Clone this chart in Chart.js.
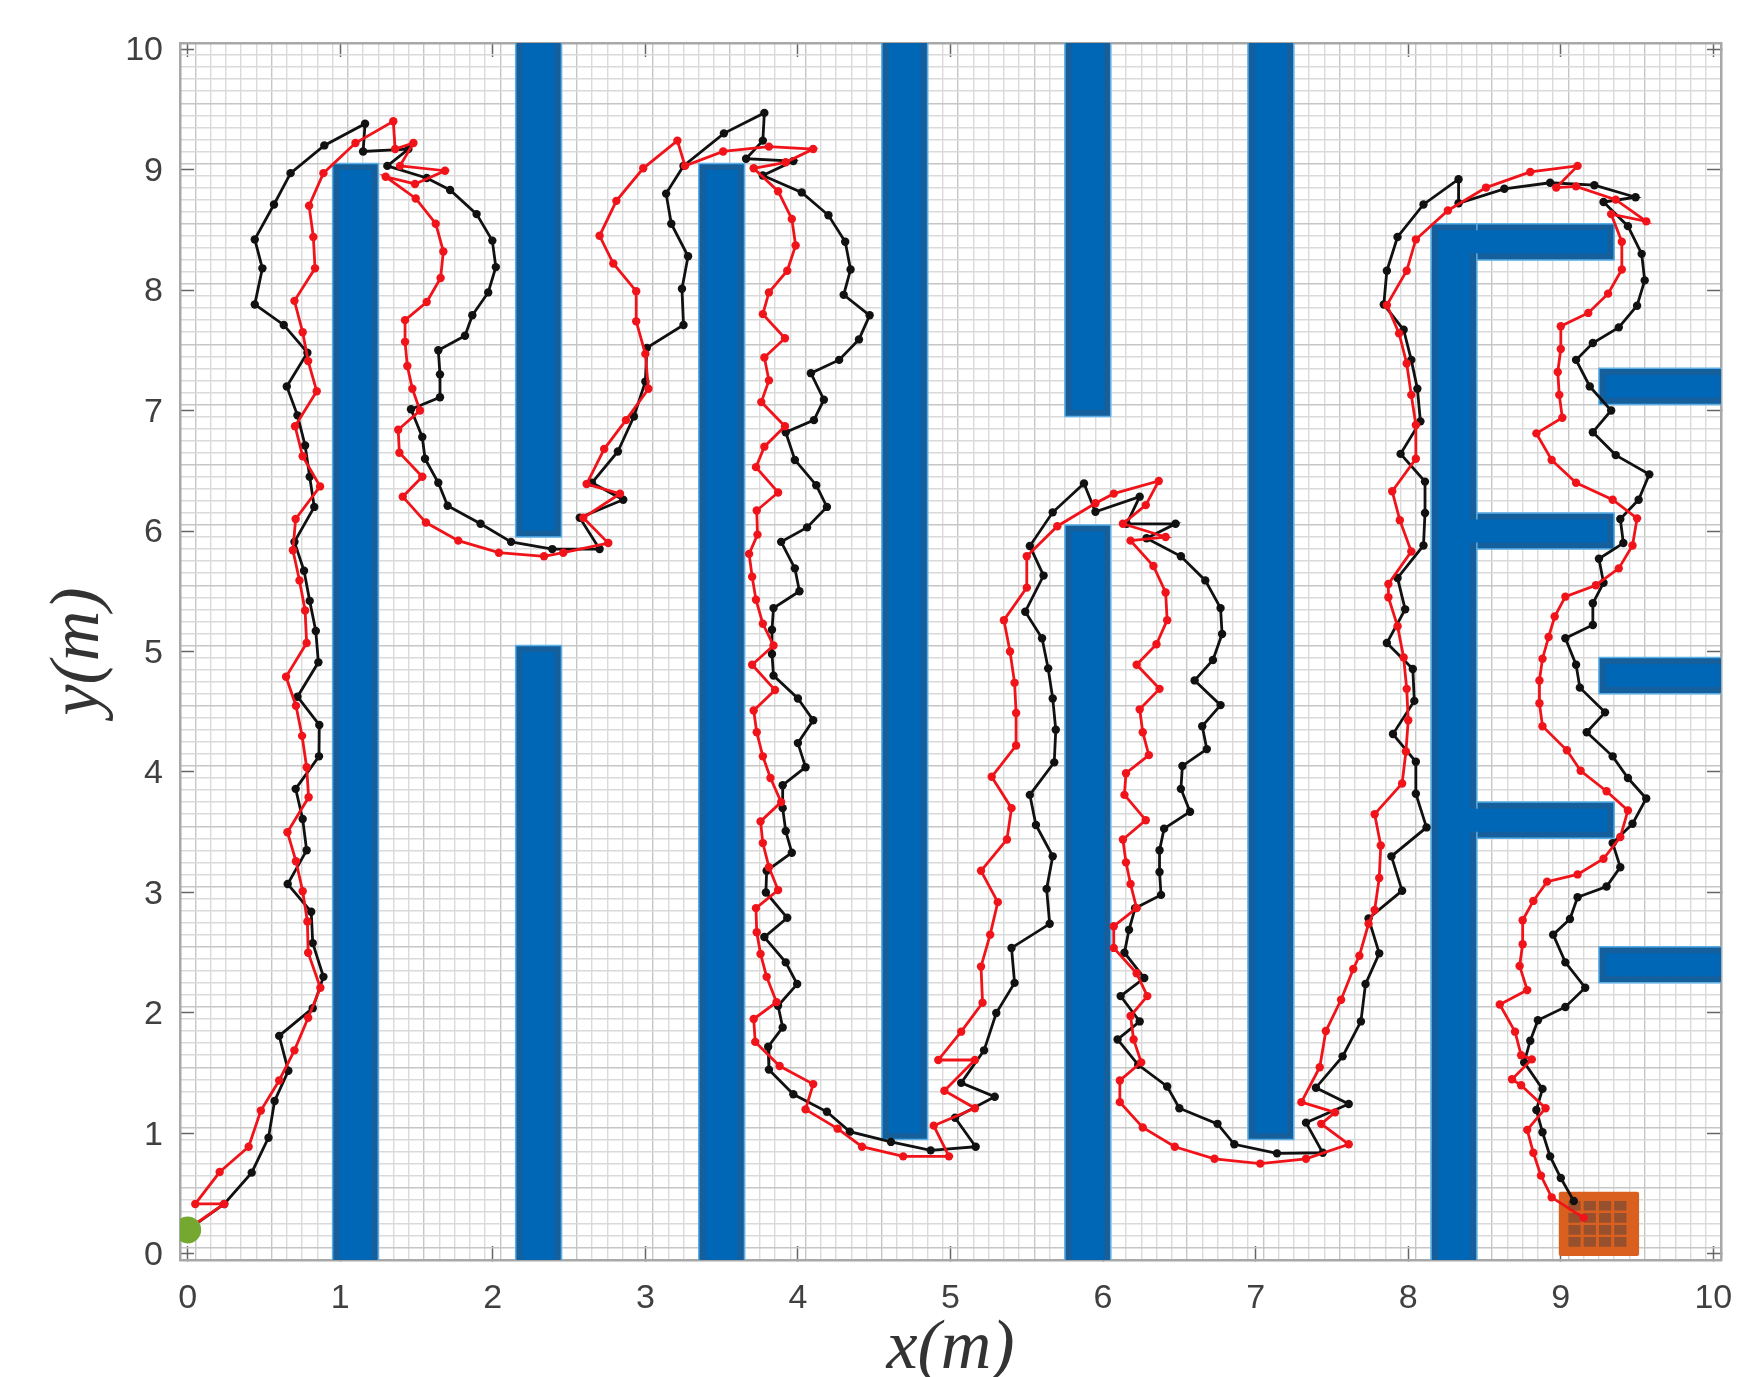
<!DOCTYPE html>
<html>
<head>
<meta charset="utf-8">
<title>Robot path</title>
<script src="https://cdn.jsdelivr.net/npm/chart.js@4/dist/chart.umd.min.js"></script>
<style>
  html, body { margin: 0; padding: 0; background: #fff; }
  #chart { display: block; filter: blur(0.6px); }
</style>
</head>
<body>
<canvas id="chart" width="1741" height="1377"></canvas>
<script>
const tickValues = [0, 1, 2, 3, 4, 5, 6, 7, 8, 9, 10];
const axisMin = -0.05;
const axisMax = 10.05;

// walls: left, right, bottom, top in metres
const wallLeft   = [0.95, 2.15, 2.15, 3.35, 4.55, 5.75, 5.75, 6.95, 8.15, 8.30, 8.30, 8.30, 9.25, 9.25, 9.25];
const wallRight  = [1.25, 2.45, 2.45, 3.65, 4.85, 6.05, 6.05, 7.25, 8.45, 9.35, 9.35, 9.35, 10.1, 10.1, 10.1];
const wallBottom = [-0.1, 5.95, -0.1, -0.1, 0.95, 6.95, -0.1, 0.95, -0.1, 8.25, 5.85, 3.45, 7.05, 4.65, 2.25];
const wallTop    = [9.05, 10.1, 5.05, 9.05, 10.1, 10.1, 6.05, 10.1, 8.55, 8.55, 6.15, 3.75, 7.35, 4.95, 2.55];

const startPoint = [[0, 0.2]];
const targetBox = [9.0, 9.5, 0.0, 0.5];
const targetCellX = [9.05, 9.15, 9.25, 9.35];
const targetCellY = [0.06, 0.16, 0.26, 0.36];

const blackPath = [
  [0, 0.2], [0.24, 0.415], [0.42, 0.675], [0.53, 0.965], [0.57, 1.27], [0.66, 1.52], [0.60, 1.81], [0.82, 2.04],
  [0.89, 2.30], [0.82, 2.58], [0.81, 2.84], [0.656, 3.07], [0.78, 3.35], [0.754, 3.61], [0.708, 3.86], [0.861, 4.13],
  [0.863, 4.39], [0.72, 4.625], [0.857, 4.91], [0.84, 5.17], [0.80, 5.42], [0.763, 5.67], [0.70, 5.91], [0.83, 6.20],
  [0.80, 6.45], [0.77, 6.71], [0.72, 6.96], [0.65, 7.20], [0.785, 7.48], [0.63, 7.71], [0.44, 7.88], [0.49, 8.18],
  [0.44, 8.42], [0.566, 8.71], [0.675, 8.97], [0.896, 9.20], [1.163, 9.38], [1.15, 9.15], [1.447, 9.17], [1.309, 9.03],
  [1.567, 8.93], [1.72, 8.83], [1.894, 8.63], [1.997, 8.41], [2.02, 8.19], [1.97, 7.98], [1.866, 7.79], [1.818, 7.62],
  [1.643, 7.50], [1.654, 7.30], [1.654, 7.11], [1.464, 7.01], [1.538, 6.78], [1.556, 6.60], [1.643, 6.40], [1.704, 6.21],
  [1.92, 6.06], [2.12, 5.91], [2.39, 5.85], [2.70, 5.85], [2.57, 6.11], [2.855, 6.26], [2.65, 6.40], [2.82, 6.66],
  [2.925, 6.95], [3.0, 7.24], [3.01, 7.52], [3.25, 7.71], [3.24, 8.01], [3.28, 8.28], [3.17, 8.55], [3.136, 8.80],
  [3.25, 9.03], [3.515, 9.30], [3.78, 9.47], [3.77, 9.24], [3.66, 9.09], [3.97, 9.07], [3.77, 8.95], [4.025, 8.81],
  [4.20, 8.62], [4.31, 8.40], [4.345, 8.17], [4.30, 7.96], [4.47, 7.79], [4.40, 7.59], [4.27, 7.42], [4.085, 7.31],
  [4.17, 7.09], [4.105, 6.92], [3.92, 6.82], [3.98, 6.59], [4.12, 6.38], [4.19, 6.20], [4.06, 6.03], [3.89, 5.91],
  [3.98, 5.69], [4.01, 5.50], [3.84, 5.36], [3.83, 5.18], [3.83, 4.98], [3.84, 4.80], [4.00, 4.61], [4.10, 4.43],
  [4.0, 4.24], [4.05, 4.04], [3.90, 3.89], [3.90, 3.70], [3.92, 3.51], [3.96, 3.33], [3.795, 3.18], [3.79, 3.00],
  [3.93, 2.79], [3.78, 2.63], [3.92, 2.42], [3.995, 2.24], [3.87, 2.06], [3.90, 1.88], [3.805, 1.72], [3.81, 1.53],
  [3.97, 1.325], [4.19, 1.18], [4.34, 1.015], [4.61, 0.93], [4.87, 0.86], [5.165, 0.89], [5.03, 1.13], [5.29, 1.305],
  [5.07, 1.42], [5.22, 1.69], [5.30, 2.00], [5.42, 2.25], [5.40, 2.54], [5.65, 2.74], [5.63, 3.03], [5.67, 3.30],
  [5.56, 3.56], [5.52, 3.81], [5.68, 4.08], [5.69, 4.35], [5.67, 4.61], [5.64, 4.86], [5.60, 5.11], [5.49, 5.33],
  [5.61, 5.63], [5.52, 5.875], [5.67, 6.155], [5.875, 6.395], [5.95, 6.16], [6.24, 6.285], [6.155, 6.06], [6.475, 6.06],
  [6.285, 5.94], [6.51, 5.79], [6.67, 5.59], [6.77, 5.36], [6.78, 5.145], [6.72, 4.93], [6.60, 4.76], [6.77, 4.555],
  [6.65, 4.38], [6.68, 4.19], [6.52, 4.05], [6.51, 3.86], [6.57, 3.67], [6.40, 3.53], [6.37, 3.35], [6.37, 3.17],
  [6.38, 2.98], [6.21, 2.87], [6.17, 2.69], [6.14, 2.50], [6.27, 2.29], [6.115, 2.14], [6.24, 1.93], [6.095, 1.78],
  [6.23, 1.57], [6.42, 1.39], [6.50, 1.21], [6.75, 1.08], [6.86, 0.91], [7.14, 0.835], [7.44, 0.84], [7.33, 1.09],
  [7.61, 1.245], [7.395, 1.38], [7.57, 1.64], [7.69, 1.93], [7.72, 2.24], [7.81, 2.495], [7.74, 2.785], [7.96, 3.015],
  [7.89, 3.30], [8.12, 3.54], [8.05, 3.82], [8.05, 4.085], [7.90, 4.315], [8.04, 4.59], [8.03, 4.855], [7.86, 5.07],
  [7.98, 5.35], [7.93, 5.61], [8.10, 5.88], [8.11, 6.15], [8.11, 6.41], [7.95, 6.64], [8.08, 6.91], [8.06, 7.18],
  [8.02, 7.42], [7.97, 7.67], [7.84, 7.88], [7.86, 8.16], [7.93, 8.44], [8.10, 8.71], [8.33, 8.92], [8.33, 8.72],
  [8.63, 8.84], [8.93, 8.89], [9.22, 8.87], [9.49, 8.77], [9.28, 8.73], [9.44, 8.53], [9.53, 8.30], [9.55, 8.08],
  [9.50, 7.87], [9.38, 7.69], [9.21, 7.56], [9.10, 7.42], [9.19, 7.20], [9.33, 7.00], [9.21, 6.82], [9.36, 6.63],
  [9.58, 6.47], [9.51, 6.26], [9.39, 6.10], [9.41, 5.90], [9.25, 5.77], [9.28, 5.57], [9.21, 5.40], [9.21, 5.22],
  [9.03, 5.11], [9.10, 4.89], [9.125, 4.70], [9.29, 4.495], [9.17, 4.33], [9.34, 4.13], [9.44, 3.95], [9.56, 3.78],
  [9.47, 3.57], [9.34, 3.41], [9.39, 3.21], [9.30, 3.05], [9.11, 2.96], [9.06, 2.78], [8.95, 2.65], [9.03, 2.42],
  [9.16, 2.21], [9.03, 2.05], [8.85, 1.94], [8.80, 1.77], [8.76, 1.59], [8.88, 1.37], [8.84, 1.195], [8.88, 1.01],
  [8.93, 0.81], [9.00, 0.63], [9.085, 0.44]
];

const redPath = [
  [0, 0.205], [0.24, 0.415], [0.05, 0.415], [0.21, 0.68], [0.40, 0.89], [0.48, 1.19], [0.60, 1.44], [0.70, 1.69],
  [0.79, 1.96], [0.87, 2.21], [0.79, 2.50], [0.785, 2.76], [0.754, 3.01], [0.71, 3.26], [0.654, 3.50], [0.793, 3.79],
  [0.78, 4.04], [0.75, 4.30], [0.71, 4.55], [0.645, 4.79], [0.78, 5.07], [0.77, 5.34], [0.733, 5.59], [0.69, 5.84],
  [0.708, 6.10], [0.868, 6.37], [0.754, 6.62], [0.704, 6.87], [0.846, 7.16], [0.79, 7.41], [0.754, 7.65], [0.70, 7.91],
  [0.835, 8.18], [0.824, 8.44], [0.796, 8.70], [0.89, 8.97], [1.10, 9.22], [1.348, 9.40], [1.36, 9.17], [1.48, 9.22],
  [1.392, 9.03], [1.687, 8.99], [1.49, 8.88], [1.298, 8.94], [1.495, 8.76], [1.626, 8.55], [1.676, 8.32], [1.658, 8.10],
  [1.567, 7.90], [1.425, 7.75], [1.425, 7.57], [1.44, 7.37], [1.473, 7.18], [1.523, 7.00], [1.38, 6.84], [1.388, 6.65],
  [1.538, 6.45], [1.41, 6.285], [1.562, 6.07], [1.774, 5.92], [2.04, 5.82], [2.336, 5.79], [2.462, 5.82], [2.757, 5.90],
  [2.593, 6.11], [2.834, 6.31], [2.615, 6.39], [2.73, 6.68], [2.873, 6.92], [3.02, 7.18], [3.0, 7.47], [2.94, 7.74],
  [2.94, 7.99], [2.79, 8.22], [2.70, 8.45], [2.81, 8.74], [2.986, 9.01], [3.21, 9.24], [3.26, 9.03], [3.51, 9.15],
  [3.81, 9.19], [4.10, 9.17], [3.92, 9.06], [3.71, 9.01], [3.87, 8.82], [3.96, 8.59], [3.985, 8.37], [3.93, 8.16],
  [3.81, 7.98], [3.77, 7.80], [3.915, 7.60], [3.78, 7.44], [3.81, 7.25], [3.76, 7.07], [3.915, 6.87], [3.78, 6.70],
  [3.725, 6.53], [3.87, 6.32], [3.73, 6.17], [3.735, 5.97], [3.68, 5.81], [3.70, 5.62], [3.725, 5.43], [3.77, 5.23],
  [3.84, 5.05], [3.70, 4.89], [3.85, 4.68], [3.71, 4.51], [3.73, 4.33], [3.77, 4.13], [3.82, 3.95], [3.89, 3.75],
  [3.755, 3.59], [3.77, 3.41], [3.81, 3.21], [3.87, 3.02], [3.725, 2.87], [3.73, 2.67], [3.755, 2.49], [3.795, 2.30],
  [3.86, 2.09], [3.71, 1.95], [3.72, 1.76], [3.88, 1.56], [4.10, 1.41], [4.05, 1.20], [4.26, 1.04], [4.42, 0.89],
  [4.69, 0.81], [4.99, 0.81], [4.89, 1.065], [5.16, 1.21], [4.96, 1.355], [5.16, 1.61], [4.92, 1.61], [5.07, 1.845],
  [5.21, 2.085], [5.20, 2.385], [5.26, 2.65], [5.31, 2.92], [5.20, 3.18], [5.37, 3.44], [5.40, 3.70], [5.27, 3.96],
  [5.43, 4.22], [5.43, 4.49], [5.42, 4.74], [5.39, 5.00], [5.35, 5.26], [5.50, 5.53], [5.50, 5.79], [5.70, 6.04],
  [5.95, 6.23], [6.07, 6.31], [6.365, 6.415], [6.28, 6.215], [6.13, 6.06], [6.41, 5.95], [6.18, 5.92], [6.33, 5.71],
  [6.41, 5.49], [6.42, 5.26], [6.35, 5.06], [6.22, 4.89], [6.37, 4.69], [6.24, 4.52], [6.26, 4.33], [6.30, 4.14],
  [6.15, 3.99], [6.14, 3.81], [6.28, 3.60], [6.13, 3.44], [6.15, 3.25], [6.18, 3.07], [6.22, 2.87], [6.07, 2.72],
  [6.07, 2.54], [6.22, 2.33], [6.29, 2.14], [6.18, 1.975], [6.20, 1.78], [6.25, 1.59], [6.11, 1.44], [6.11, 1.26],
  [6.26, 1.05], [6.47, 0.89], [6.73, 0.79], [7.03, 0.75], [7.33, 0.79], [7.61, 0.91], [7.43, 1.08], [7.52, 1.175],
  [7.30, 1.26], [7.42, 1.55], [7.46, 1.85], [7.56, 2.11], [7.64, 2.365], [7.68, 2.475], [7.74, 2.74], [7.78, 2.855],
  [7.81, 3.12], [7.82, 3.39], [7.78, 3.65], [7.96, 3.905], [7.985, 4.17], [8.00, 4.43], [7.99, 4.69], [7.97, 4.95],
  [7.93, 5.21], [7.87, 5.45], [7.87, 5.56], [8.02, 5.83], [7.945, 6.09], [7.895, 6.33], [8.05, 6.60], [8.05, 6.88],
  [8.02, 7.13], [7.99, 7.39], [7.94, 7.64], [7.86, 7.875], [7.99, 8.16], [8.05, 8.42], [8.26, 8.66], [8.51, 8.85],
  [8.80, 8.98], [9.11, 9.03], [8.97, 8.85], [9.10, 8.86], [9.36, 8.75], [9.56, 8.57], [9.33, 8.63], [9.40, 8.40],
  [9.40, 8.17], [9.31, 7.97], [9.18, 7.81], [9.00, 7.70], [9.00, 7.51], [8.98, 7.32], [8.99, 7.13], [9.01, 6.94],
  [8.84, 6.81], [8.94, 6.59], [9.10, 6.40], [9.34, 6.26], [9.50, 6.105], [9.47, 5.88], [9.38, 5.69], [9.23, 5.55],
  [9.03, 5.455], [8.96, 5.29], [8.92, 5.12], [8.88, 4.94], [8.86, 4.76], [8.86, 4.57], [8.88, 4.38], [9.04, 4.18],
  [9.13, 4.01], [9.30, 3.84], [9.44, 3.68], [9.39, 3.46], [9.28, 3.28], [9.11, 3.15], [8.91, 3.09], [8.82, 2.93],
  [8.75, 2.77], [8.75, 2.57], [8.73, 2.39], [8.78, 2.19], [8.60, 2.07], [8.70, 1.845], [8.74, 1.65], [8.81, 1.615],
  [8.68, 1.45], [8.74, 1.40], [8.90, 1.21], [8.78, 1.03], [8.82, 0.84], [8.87, 0.65], [8.94, 0.47], [9.15, 0.30]
];

function toPoints(path) {
  return path.map(p => ({ x: p[0], y: p[1] }));
}

function boxPoints(x0, x1, y0, y1) {
  return [{ x: x0, y: y0 }, { x: x1, y: y0 }, { x: x1, y: y1 }, { x: x0, y: y1 }, { x: x0, y: y0 }];
}

function boxDataset(points, color, order, edge, edgeWidth) {
  return {
    data: points,
    showLine: true,
    fill: 'shape',
    tension: 0,
    backgroundColor: color,
    borderColor: edge || color,
    borderWidth: edgeWidth || 0,
    borderJoinStyle: 'round',
    pointRadius: 0,
    order: order
  };
}

function pathDataset(path, color, order) {
  return {
    data: toPoints(path),
    showLine: true,
    tension: 0,
    borderColor: color,
    backgroundColor: color,
    borderWidth: 2.8,
    pointRadius: 4.2,
    pointBorderWidth: 0,
    order: order
  };
}

var datasets = [];

// darker rim first, then the lighter middle of each wall
wallLeft.forEach((left, i) => {
  datasets.push(boxDataset(boxPoints(left, wallRight[i], wallBottom[i], wallTop[i]), '#155f9c', 10, '#5aaee6', 1.5));
});
wallLeft.forEach((left, i) => {
  datasets.push(boxDataset(boxPoints(left + 0.045, wallRight[i] - 0.045, wallBottom[i] + 0.055, wallTop[i] - 0.055), '#0067b6', 9));
});

datasets.push(boxDataset(boxPoints(targetBox[0], targetBox[1], targetBox[2], targetBox[3]), '#d9601f', 8, '#d9601f', 4));
targetCellX.forEach(cx => {
  targetCellY.forEach(cy => {
    datasets.push(boxDataset(boxPoints(cx, cx + 0.08, cy, cy + 0.08), '#97502e', 7));
  });
});

datasets.push(pathDataset(blackPath, '#111111', 5));
datasets.push(pathDataset(redPath, '#f0141a', 4));
datasets.push({
  data: toPoints(startPoint),
  pointRadius: 13.5,
  pointBorderWidth: 0,
  backgroundColor: '#74a830',
  order: 1
});

function fixSize(s, horizontal, size) {
  if (horizontal) {
    s.height = size;
  } else {
    s.width = size;
  }
  // no extra room for labels hanging past the plot
  s.paddingLeft = s.paddingRight = s.paddingTop = s.paddingBottom = 0;
}

// axis with the labels and short inward ticks
function tickAxis(position, size, showLabels, pad) {
  const horizontal = position === 'bottom' || position === 'top';
  return {
    type: 'linear',
    position: position,
    min: axisMin,
    max: axisMax,
    afterBuildTicks: s => { s.ticks = tickValues.map(v => ({ value: v })); },
    afterFit: s => fixSize(s, horizontal, size),
    border: { display: true, color: '#a8a8a8', width: 2.5 },
    grid: { color: 'transparent', tickColor: '#666666', tickWidth: 1.5, tickLength: -14, drawTicks: true },
    ticks: {
      display: showLabels,
      autoSkip: false,
      maxRotation: 0,
      padding: pad,
      labelOffset: horizontal ? 0 : 2,
      color: '#404040',
      font: { family: 'Liberation Sans', size: 34 },
      callback: v => String(v)
    }
  };
}

// axis that only draws the fine grid, its lines sit between the whole tenths
function gridAxis(position) {
  const horizontal = position === 'bottom';
  return {
    type: 'linear',
    position: position,
    min: axisMin,
    max: axisMax,
    afterBuildTicks: s => {
      s.ticks = Array.from({ length: 100 }, (_, i) => ({ value: i / 10 + 0.05 }));
    },
    afterFit: s => fixSize(s, horizontal, 0),
    border: { display: false },
    grid: {
      drawTicks: false,
      lineWidth: 1.4,
      color: c => (c.index % 5 === 0 ? '#c6c6c6' : '#dadada')
    },
    ticks: { display: false, autoSkip: false }
  };
}

const xAxis = tickAxis('bottom', 117, true, 32);
xAxis.title = {
  display: true,
  text: 'x(m)',
  color: '#333333',
  font: { family: 'Liberation Serif', style: 'italic', size: 70, lineHeight: 1 },
  padding: { top: 0, bottom: -8 }
};
const yAxis = tickAxis('left', 180, true, 31);
yAxis.title = {
  display: true,
  text: 'y(m)',
  color: '#333333',
  font: { family: 'Liberation Serif', style: 'italic', size: 70, lineHeight: 1 },
  padding: { top: 45, bottom: 0 }
};

new Chart(document.getElementById('chart'), {
  type: 'scatter',
  data: { datasets: datasets },
  options: {
    responsive: false,
    animation: false,
    devicePixelRatio: 1,
    layout: { padding: 0 },
    plugins: { legend: { display: false }, tooltip: { enabled: false } },
    scales: {
      x: xAxis,
      y: yAxis,
      xTop: tickAxis('top', 43, false, 0),
      yRight: tickAxis('right', 20, false, 0),
      xGrid: gridAxis('bottom'),
      yGrid: gridAxis('left')
    }
  }
});
</script>
</body>
</html>
